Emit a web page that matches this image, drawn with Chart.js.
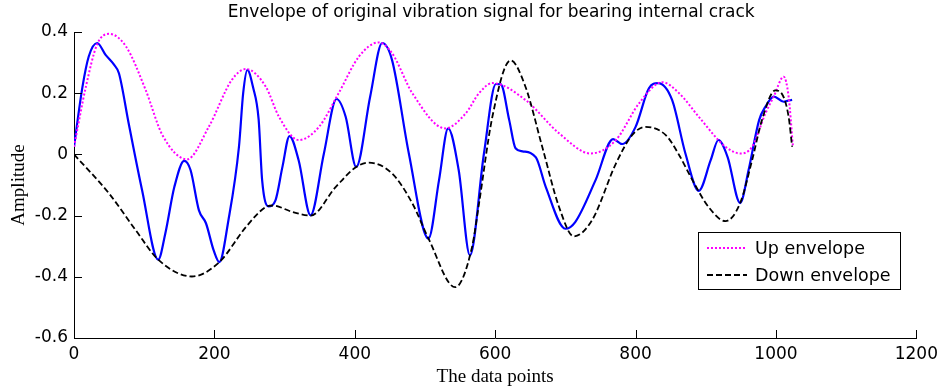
<!DOCTYPE html>
<html>
<head>
<meta charset="utf-8">
<script src="https://cdn.jsdelivr.net/npm/chart.js@4.4.1/dist/chart.umd.min.js"></script>
<style>
html,body{margin:0;padding:0;background:#fff;}
canvas{display:block;}
</style>
</head>
<body>
<canvas id="c" width="944" height="390"></canvas>
<script>
const TITLE = 'Envelope of original vibration signal for bearing internal crack';
const X_TITLE = 'The data points';
const Y_TITLE = 'Amplitude';
const UP_LABEL = 'Up envelope';
const DOWN_LABEL = 'Down envelope';

const xTickValues = [0, 200, 400, 600, 800, 1000, 1200];
const xTickLabels = ['0', '200', '400', '600', '800', '1000', '1200'];
const yTickValues = [-0.6, -0.4, -0.2, 0, 0.2, 0.4];
const yTickLabels = ['-0.6', '-0.4', '-0.2', '0', '0.2', '0.4'];

// original vibration signal
const sigX = [0, 12, 21, 33, 45, 57, 64, 78, 97, 120, 130, 143, 157, 166, 178, 188, 199, 207, 220, 235, 241, 247, 255, 263, 268, 277, 287, 297, 307, 320, 337, 356, 374, 387, 402, 422, 439, 453, 477, 505, 520, 533, 548, 564, 584, 601, 608, 620, 629, 639, 658, 672, 700, 714, 743, 768, 781, 800, 819, 832, 852, 871, 890, 907, 918, 931, 949, 961, 976, 985, 997, 1011, 1016, 1023];
const sigY = [0.025, 0.22, 0.32, 0.364, 0.325, 0.293, 0.265, 0.1, -0.117, -0.344, -0.259, -0.106, -0.021, -0.051, -0.183, -0.225, -0.314, -0.352, -0.215, 0.025, 0.2, 0.276, 0.22, 0.115, -0.084, -0.17, -0.15, -0.04, 0.06, -0.019, -0.199, 0.003, 0.181, 0.123, -0.041, 0.19, 0.364, 0.309, 0.003, -0.275, -0.084, 0.085, -0.051, -0.33, 0.003, 0.23, 0.229, 0.112, 0.02, 0.01, -0.01, -0.106, -0.243, -0.221, -0.084, 0.05, 0.034, 0.09, 0.216, 0.233, 0.178, 0.003, -0.119, -0.019, 0.047, -0.008, -0.159, -0.051, 0.112, 0.156, 0.189, 0.172, 0.175, 0.178];

// up envelope
const upX = [0, 17, 33, 50, 74, 102, 126, 161, 192, 225, 245, 273, 292, 320, 349, 377, 406, 434, 453, 482, 529, 558, 577, 596, 643, 691, 736, 772, 805, 838, 862, 890, 928, 950, 966, 985, 997, 1011, 1018, 1024];
const upY = [0.025, 0.222, 0.36, 0.394, 0.353, 0.211, 0.063, -0.016, 0.09, 0.244, 0.279, 0.222, 0.123, 0.047, 0.09, 0.2, 0.32, 0.366, 0.331, 0.2, 0.085, 0.134, 0.2, 0.233, 0.178, 0.069, 0.003, 0.047, 0.167, 0.236, 0.2, 0.123, 0.025, 0.003, 0.025, 0.134, 0.19, 0.254, 0.189, 0.03];

// down envelope
const downX = [0, 50, 88, 120, 168, 207, 245, 273, 283, 311, 337, 373, 402, 420, 453, 482, 505, 543, 567, 577, 596, 622, 643, 667, 691, 712, 738, 772, 795, 814, 843, 862, 881, 904, 928, 949, 966, 980, 999, 1009, 1018, 1023];
const downY = [0, -0.128, -0.248, -0.344, -0.399, -0.352, -0.237, -0.172, -0.167, -0.188, -0.2, -0.106, -0.041, -0.027, -0.062, -0.16, -0.275, -0.434, -0.303, -0.16, 0.123, 0.307, 0.222, 0.025, -0.172, -0.268, -0.215, -0.03, 0.063, 0.09, 0.063, -0.002, -0.084, -0.172, -0.218, -0.159, -0.019, 0.112, 0.209, 0.196, 0.123, 0.025];

const pts = (xs, ys) => xs.map((x, i) => ({x: x, y: ys[i]}));

const SANS = '"DejaVu Sans", sans-serif';
const SERIF = '"Liberation Serif", "Times New Roman", serif';

const inwardTicks = {
  id: 'inwardTicks',
  afterDatasetsDraw(chart) {
    const ctx = chart.ctx, a = chart.chartArea;
    const xs = chart.scales.x, ys = chart.scales.y;
    ctx.save();
    ctx.strokeStyle = '#000';
    ctx.lineWidth = 1;
    ctx.beginPath();
    xs.ticks.forEach(t => {
      const px = Math.round(xs.getPixelForValue(t.value)) + 0.5;
      ctx.moveTo(px, a.bottom);
      ctx.lineTo(px, a.bottom - 8);
    });
    ys.ticks.forEach(t => {
      const py = Math.round(ys.getPixelForValue(t.value)) + 0.5;
      ctx.moveTo(a.left, py);
      ctx.lineTo(a.left + 8, py);
    });
    ctx.stroke();
    ctx.restore();
  }
};

const titleAndLegend = {
  id: 'titleAndLegend',
  afterDraw(chart) {
    const ctx = chart.ctx, a = chart.chartArea;
    ctx.save();
    // title
    ctx.fillStyle = '#000';
    ctx.font = '17px ' + SANS;
    ctx.textAlign = 'center';
    ctx.textBaseline = 'middle';
    ctx.fillText(TITLE, (a.left + a.right) / 2 - 4, 13);
    // legend
    const lx = 698.5, ly = 232.5, lw = 202, lh = 57;
    ctx.fillStyle = '#fff';
    ctx.fillRect(lx, ly, lw, lh);
    ctx.strokeStyle = '#000';
    ctx.lineWidth = 1;
    ctx.setLineDash([]);
    ctx.strokeRect(lx, ly, lw, lh);
    const items = chart.data.datasets.filter(d => d.inLegend);
    items.forEach((d, i) => {
      const y = 248 + i * 27;
      ctx.strokeStyle = d.borderColor;
      ctx.lineWidth = d.borderWidth;
      ctx.setLineDash(d.borderDash || []);
      ctx.beginPath();
      ctx.moveTo(707, y);
      ctx.lineTo(747, y);
      ctx.stroke();
      ctx.setLineDash([]);
      ctx.fillStyle = '#000';
      ctx.font = '17.5px ' + SANS;
      ctx.textAlign = 'left';
      ctx.textBaseline = 'middle';
      ctx.fillText(d.label, 755, y + 1);
    });
    ctx.restore();
  }
};

new Chart(document.getElementById('c'), {
  type: 'line',
  data: {
    datasets: [
      {label: DOWN_LABEL, data: pts(downX, downY), borderColor: '#000000', borderWidth: 1.8, borderDash: [6, 3], pointRadius: 0, fill: false, cubicInterpolationMode: 'monotone', order: 0, inLegend: true},
      {label: UP_LABEL, data: pts(upX, upY), borderColor: '#FF00FF', borderWidth: 2, borderDash: [2, 2], pointRadius: 0, fill: false, cubicInterpolationMode: 'monotone', order: 1, inLegend: true},
      {label: 'Signal', data: pts(sigX, sigY), borderColor: '#0000FF', borderWidth: 2.2, pointRadius: 0, fill: false, cubicInterpolationMode: 'monotone', order: 2, inLegend: false}
    ].sort((p, q) => (p.inLegend === q.inLegend) ? (q.label === UP_LABEL ? 1 : -1) : 0)
  },
  options: {
    responsive: false,
    animation: false,
    devicePixelRatio: 1,
    layout: {padding: {top: 32, right: 26, left: 0, bottom: 0}},
    plugins: {
      legend: {display: false},
      title: {display: false},
      tooltip: {enabled: false}
    },
    scales: {
      x: {
        type: 'linear',
        min: 0, max: 1200,
        afterBuildTicks: s => { s.ticks = xTickValues.map(v => ({value: v})); },
        afterFit: s => { s.height = 52; },
        grid: {display: false, drawTicks: false},
        border: {display: true, color: '#000', width: 1},
        ticks: {
          padding: 6,
          color: '#000',
          font: {family: SANS, size: 17},
          maxRotation: 0,
          callback: v => xTickLabels[xTickValues.indexOf(v)]
        },
        title: {display: true, text: X_TITLE, color: '#000', font: {family: SERIF, size: 19}, padding: {top: 0, bottom: 2}}
      },
      y: {
        type: 'linear',
        min: -0.6, max: 0.4,
        afterBuildTicks: s => { s.ticks = yTickValues.map(v => ({value: v})); },
        afterFit: s => { s.width = 74; },
        grid: {display: false, drawTicks: false},
        border: {display: true, color: '#000', width: 1},
        ticks: {
          padding: 6,
          color: '#000',
          font: {family: SANS, size: 17},
          callback: v => yTickLabels[yTickValues.findIndex(t => Math.abs(t - v) < 1e-9)]
        },
        title: {display: true, text: Y_TITLE, color: '#000', font: {family: SERIF, size: 19}, padding: {top: 8, bottom: 0}}
      }
    }
  },
  plugins: [inwardTicks, titleAndLegend]
});
</script>
</body>
</html>
